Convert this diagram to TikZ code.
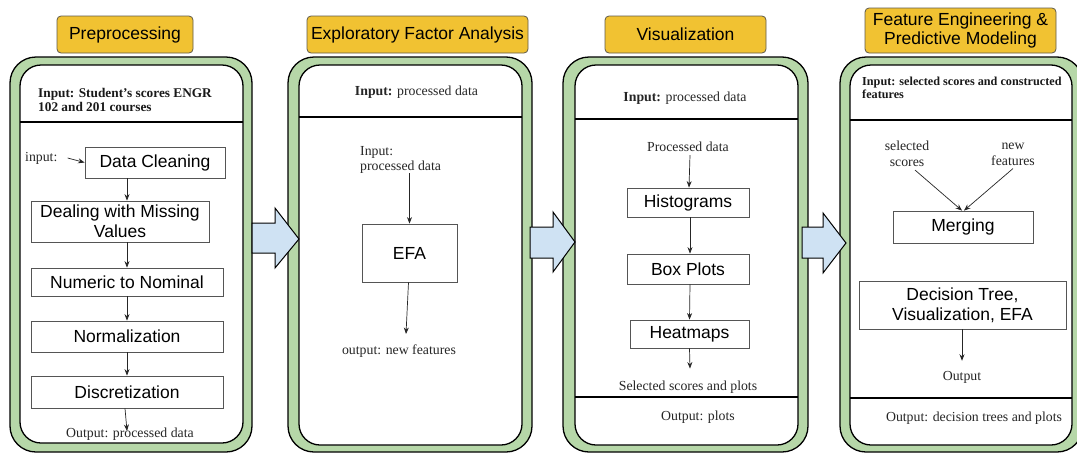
\documentclass[tikz,border=0pt]{standalone}
\usepackage{fontspec}
\setmainfont{Liberation Serif}
\newfontfamily\arial{Liberation Sans}
\usetikzlibrary{arrows.meta}

\definecolor{panelgreen}{HTML}{B6D7A8}
\definecolor{arrowblue}{HTML}{CFE2F3}
\definecolor{titleyellow}{HTML}{F1C232}
\definecolor{titleedge}{HTML}{5F5A4A}
\definecolor{boxedge}{HTML}{555555}

\begin{document}
\begin{tikzpicture}[x=1pt,y=-1pt,
  panel/.style={draw=black, line width=1.3pt, fill=panelgreen, rounded corners=26pt},
  innerpanel/.style={draw=black, line width=1.3pt, fill=white, rounded corners=21pt},
  sep/.style={draw=black, line width=1.1pt},
  title/.style={draw=titleedge, line width=0.8pt, fill=titleyellow, rounded corners=4pt,
    font=\arial\fontsize{17.5}{19}\selectfont, inner sep=0pt, align=center},
  stepbox/.style={draw=boxedge, line width=0.8pt, fill=white,
    font=\arial\fontsize{17.5}{20}\selectfont, align=center, inner sep=0pt},
  note/.style={font=\fontsize{13.8}{15}\selectfont, align=center, inner sep=0pt, text=black!85},
  head/.style={font=\bfseries\fontsize{13.3}{14}\selectfont, align=left, inner sep=0pt, text=black!90},
  flow/.style={-{Stealth[length=6.5pt,width=5pt]}, line width=0.7pt, draw=black!85},
  bigarrow/.style={draw=black, line width=1pt, fill=arrowblue, line join=miter}
]
\useasboundingbox (0,0) rectangle (1077,453);

% ---------- panels ----------
\path[panel] (10,57) rectangle (252,452);
\path[innerpanel] (20,65) rectangle (243,443);
\draw[sep] (20,122) -- (243,122);

\path[panel] (288,57) rectangle (532,452);
\path[innerpanel] (299,65) rectangle (522,445);
\draw[sep] (299,117) -- (522,117);

\path[panel] (563,57) rectangle (808,452);
\path[innerpanel] (575,65) rectangle (798,445);
\draw[sep] (575,119) -- (798,119);
\draw[sep] (575,397) -- (798,397);

\path[panel] (840,57) rectangle (1083,452);
\path[innerpanel] (850,65) rectangle (1072,445);
\draw[sep] (850,120) -- (1072,120);
\draw[sep] (850,398) -- (1072,398);

% ---------- titles ----------
\node[title, minimum width=136pt, minimum height=37pt] (t1) at (125,34.5) {Preprocessing};
\node[title, minimum width=221pt, minimum height=37pt] (t2) at (417.5,34.5) {Exploratory Factor Analysis};
\node[title, minimum width=161pt, minimum height=37pt] (t3) at (685.5,34.5) {Visualization};
\node[title, minimum width=191pt, minimum height=45pt] (t4) at (960.5,30.5) {Feature Engineering \&\\Predictive Modeling};

% ---------- stage transfer arrows ----------
\draw[bigarrow] (252,223) -- (275,223) -- (275,208) -- (299,239) -- (275,268) -- (275,253) -- (252,253) -- cycle;
\draw[bigarrow] (530,227) -- (553,227) -- (553,212) -- (575,242) -- (553,272) -- (553,258) -- (530,258) -- cycle;
\draw[bigarrow] (802,227) -- (823,227) -- (823,213) -- (846,243) -- (823,273) -- (823,258) -- (802,258) -- cycle;

% ---------- preprocessing ----------
\node[head, anchor=west] (h1) at (38,100) {Input: Student’s scores ENGR\\102 and 201 courses};
\node[note, anchor=west] (in1) at (25,158) {input:};
\node[stepbox, minimum width=140pt, minimum height=31pt] (dc) at (155,162.5) {Data Cleaning};
\node[stepbox, minimum width=178pt, minimum height=41pt] (dm) at (120,221.5) {Dealing with Missing\\Values};
\node[stepbox, minimum width=192pt, minimum height=28pt] (nn) at (127,282) {Numeric to Nominal};
\node[stepbox, minimum width=192pt, minimum height=31pt] (nz) at (127,336.5) {Normalization};
\node[stepbox, minimum width=192pt, minimum height=32pt] (dz) at (127,392) {Discretization};
\node[note] (o1) at (130,434) {Output: processed data};
\coordinate (o1tip) at (127,431);

\draw[flow] ([xshift=10pt]in1.east) -- (dc.west);
\draw[flow] (dc.south -| nn.north) -- (dm.north -| nn.north);
\draw[flow] (dm.south -| nn.north) -- (nn.north);
\draw[flow] (nn.south) -- (nz.north);
\draw[flow] (nz.south) -- (dz.north);
\draw[flow] ([xshift=-2pt]dz.south) -- (o1tip);

% ---------- exploratory factor analysis ----------
\node[note] (h2) at (416.5,92) {\textbf{Input:} processed data};
\node[note, anchor=west, align=left] (in2) at (360,159.5) {Input:\\processed data};
\node[stepbox, minimum width=95pt, minimum height=58pt] (efa) at (409.5,253) {EFA};
\node[note] (o2) at (399,351) {output: new features};
\coordinate (o2tip) at (406,334);
\draw[flow] (efa.north |- in2.south) -- (efa.north);
\draw[flow] ([xshift=-1pt]efa.south) -- (o2tip);

% ---------- visualization ----------
\node[note] (h3) at (685,98) {\textbf{Input:} processed data};
\node[note] (in3) at (688,147) {Processed data};
\node[stepbox, minimum width=122pt, minimum height=29pt] (hist) at (688,202.5) {Histograms};
\node[stepbox, minimum width=122pt, minimum height=30pt] (box) at (688,269) {Box Plots};
\node[stepbox, minimum width=119pt, minimum height=28pt] (heat) at (689.5,334) {Heatmaps};
\node[note] (sel3) at (688,387) {Selected scores and plots};
\node[note] (o3) at (698,417) {Output: plots};
\draw[flow] ([xshift=2pt, yshift=-3pt]in3.south) -- ([xshift=1pt]hist.north);
\draw[flow] ([xshift=2pt]hist.south) -- ([xshift=2pt]box.north);
\draw[flow] ([xshift=2pt]box.south) -- (heat.north);
\draw[flow] (heat.south) -- ([xshift=2pt, yshift=12pt]sel3.north);

% ---------- feature engineering & predictive modeling ----------
\node[head, font=\bfseries\fontsize{12.2}{13}\selectfont, anchor=west] (h4) at (862,87.5) {Input: selected scores and constructed\\features};
\node[note, font=\fontsize{13.8}{16}\selectfont] (sel4) at (907,154) {selected\\scores};
\node[note, font=\fontsize{13.8}{16}\selectfont] (new4) at (1013,154) {new\\features};
\node[stepbox, minimum width=140pt, minimum height=32pt] (merge) at (963,227) {Merging};
\node[stepbox, minimum width=207pt, minimum height=48pt] (dt) at (962.5,305) {Decision Tree,\\Visualization, EFA};
\node[note] (out4) at (962,377) {Output};
\node[note] (o4) at (974,418) {Output: decision trees and plots};
\draw[flow] ([xshift=8pt,yshift=-3pt]sel4.south) -- ([xshift=-1pt]merge.north);
\draw[flow] ([yshift=-3pt]new4.south) -- ([xshift=1pt]merge.north);
\draw[flow] (dt.south -| out4.north) -- ([yshift=10pt]out4.north);
\end{tikzpicture}
\end{document}
